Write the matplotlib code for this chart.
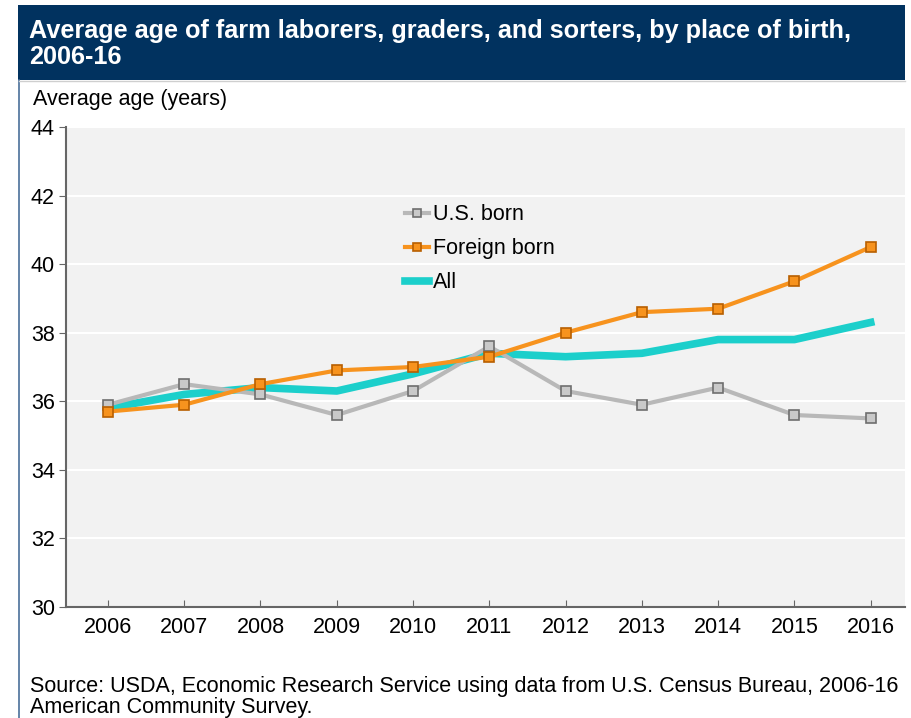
import numpy as np
import matplotlib.pyplot as plt
from matplotlib.patches import Rectangle
from matplotlib.lines import Line2D

plt.rcParams['font.family'] = ['Liberation Sans', 'DejaVu Sans']

# data
years = [2006, 2007, 2008, 2009, 2010, 2011, 2012, 2013, 2014, 2015, 2016]
us_born = [35.9, 36.5, 36.2, 35.6, 36.3, 37.6, 36.3, 35.9, 36.4, 35.6, 35.5]
foreign_born = [35.7, 35.9, 36.5, 36.9, 37.0, 37.3, 38.0, 38.6, 38.7, 39.5, 40.5]
all_workers = [35.8, 36.2, 36.4, 36.3, 36.8, 37.4, 37.3, 37.4, 37.8, 37.8, 38.3]
y_ticks = [30, 32, 34, 36, 38, 40, 42, 44]

fig = plt.figure(figsize=(9.12, 7.18), dpi=100)
W, H = 912, 718

# title band
fig.patches.append(Rectangle((18 / W, 1 - 80 / H), (905 - 18) / W, 75 / H,
                             transform=fig.transFigure, facecolor='#01325f',
                             edgecolor='none', zorder=0))
fig.add_artist(Line2D([19 / W, 19 / W], [0, 1 - 80 / H], transform=fig.transFigure,
                      color='#4a6f9a', lw=1.2))
fig.add_artist(Line2D([19 / W, 905 / W], [1 - 81 / H, 1 - 81 / H], transform=fig.transFigure,
                      color='#cfcfcf', lw=1.0))
fig.text(29 / W, 1 - 44 / H,
         'Average age of farm laborers, graders, and sorters, by place of birth,\n2006-16',
         color='white', fontsize=18.2, fontweight='bold', va='center', ha='left',
         linespacing=1.08)
fig.text(33 / W, 1 - 100 / H, 'Average age (years)', fontsize=15.5, va='center')

ax = fig.add_axes([66 / W, 1 - 607 / H, (905 - 66) / W, (607 - 127) / H])
ax.set_facecolor('#f2f2f2')

ax.plot(years, us_born, color='#b8b8b8', lw=3, marker='s', ms=7,
        mfc='#c9c9c9', mec='#6e6e6e', mew=1.2, label='U.S. born', zorder=3)
ax.plot(years, foreign_born, color='#f7931e', lw=3, marker='s', ms=7,
        mfc='#f7931e', mec='#b85f00', mew=1.2, label='Foreign born', zorder=4)
ax.plot(years, all_workers, color='#1ccfcb', lw=5.5, label='All', zorder=2)

ax.set_ylim(30, 44)
ax.set_yticks(y_ticks)
ax.set_xlim(2005.45, 2016.45)
ax.set_xticks(years)
ax.yaxis.grid(True, color='white', lw=1.5)
ax.set_axisbelow(True)
for s in ['top', 'right']:
    ax.spines[s].set_visible(False)
ax.spines['left'].set_color('#666666')
ax.spines['bottom'].set_color('#666666')
ax.spines['left'].set_linewidth(1.5)
ax.spines['bottom'].set_linewidth(1.5)
ax.tick_params(axis='y', direction='out', length=5, color='#666666', labelsize=15.5, pad=3)
ax.tick_params(axis='x', direction='in', length=5, color='#666666', labelsize=15.5, pad=7)

leg = ax.legend(loc='upper left', bbox_to_anchor=(0.381, 0.879), frameon=False,
                fontsize=15.5, handlelength=1.1, handletextpad=0.2, labelspacing=0.6,
                markerscale=0.8)

fig.text(30 / W, 1 - 697 / H,
         'Source: USDA, Economic Research Service using data from U.S. Census Bureau, 2006-16\nAmerican Community Survey.',
         fontsize=15.5, va='center', linespacing=0.95)

plt.savefig('out.png', dpi=100)
